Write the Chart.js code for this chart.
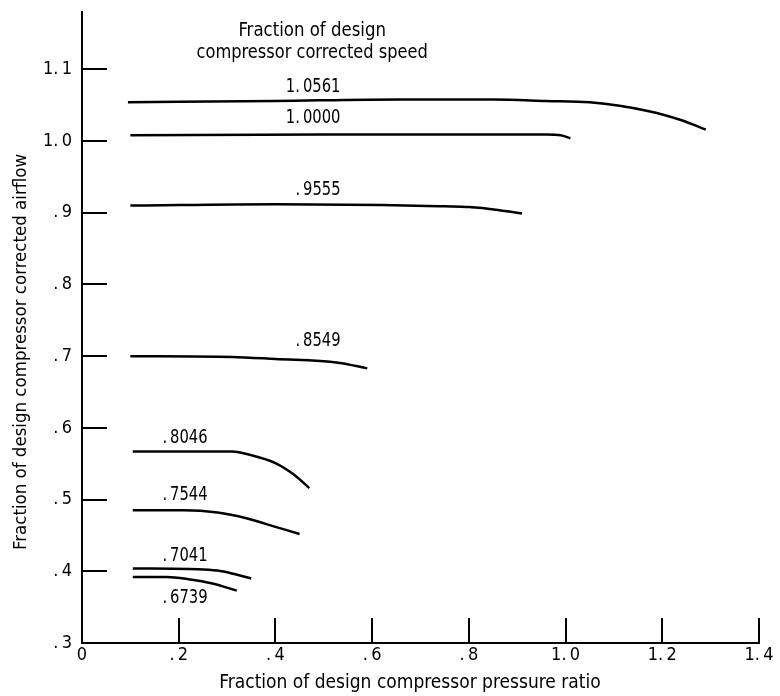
<!DOCTYPE html>
<html>
<head>
<meta charset="utf-8">
<script src="https://cdn.jsdelivr.net/npm/chart.js@4.4.0/dist/chart.umd.min.js"></script>
<style>
  body { margin: 0; background: #fff; }
  #wrap { width: 780px; height: 696px; }
</style>
</head>
<body>
<div id="wrap"><canvas id="map" width="780" height="696"></canvas></div>
<script>
// Fraction of design compressor corrected speed, one curve each
const speeds = ['1.\u20090561', '1.\u20090000', '.\u20099555', '.\u20098549', '.\u20098046', '.\u20097544', '.\u20097041', '.\u20096739'];

// pressure ratio (x) and corrected airflow (y)
const pr10561 = [0.095, 0.40, 0.66, 0.85, 0.96, 1.05, 1.17, 1.24, 1.29];
const wa10561 = [1.054, 1.056, 1.058, 1.058, 1.056, 1.054, 1.042, 1.029, 1.016];
const pr10000 = [0.10, 0.50, 0.96, 0.99, 1.01];
const wa10000 = [1.008, 1.009, 1.009, 1.008, 1.004];
const pr9555 = [0.10, 0.40, 0.62, 0.75, 0.80, 0.86, 0.91];
const wa9555 = [0.910, 0.912, 0.911, 0.909, 0.908, 0.904, 0.899];
const pr8549 = [0.10, 0.31, 0.40, 0.53, 0.59];
const wa8549 = [0.700, 0.699, 0.696, 0.691, 0.683];
const pr8046 = [0.105, 0.31, 0.35, 0.40, 0.44, 0.47];
const wa8046 = [0.567, 0.567, 0.562, 0.551, 0.534, 0.516];
const pr7544 = [0.105, 0.21, 0.28, 0.34, 0.40, 0.45];
const wa7544 = [0.485, 0.485, 0.482, 0.474, 0.462, 0.452];
const pr7041 = [0.105, 0.24, 0.28, 0.31, 0.35];
const wa7041 = [0.404, 0.403, 0.401, 0.397, 0.390];
const pr6739 = [0.105, 0.175, 0.22, 0.27, 0.32];
const wa6739 = [0.392, 0.392, 0.389, 0.383, 0.373];

// where each speed label sits, in axis units
const labelX = [0.478, 0.478, 0.488, 0.488, 0.213, 0.213, 0.213, 0.213];
const labelY = [1.075, 1.032, 0.932, 0.721, 0.586, 0.506, 0.421, 0.363];

const xTicks = [0, 0.2, 0.4, 0.6, 0.8, 1.0, 1.2, 1.4];
const xTickLabels = ['0', '.\u20092', '.\u20094', '.\u20096', '.\u20098', '1.\u20090', '1.\u20092', '1.\u20094'];
const yTicks = [0.3, 0.4, 0.5, 0.6, 0.7, 0.8, 0.9, 1.0, 1.1];
const yTickLabels = ['.\u20093', '.\u20094', '.\u20095', '.\u20096', '.\u20097', '.\u20098', '.\u20099', '1.\u20090', '1.\u20091'];

const legendTitle = ['Fraction of design', 'compressor corrected speed'];
const xTitle = 'Fraction of design compressor pressure ratio';
const yTitle = 'Fraction of design compressor corrected airflow';

const FONT = '"DejaVu Sans Condensed", "Liberation Sans Narrow", sans-serif';

function toPoints(xs, ys) {
  return xs.map((v, i) => ({ x: v, y: ys[i] }));
}

const curves = [
  toPoints(pr10561, wa10561),
  toPoints(pr10000, wa10000),
  toPoints(pr9555, wa9555),
  toPoints(pr8549, wa8549),
  toPoints(pr8046, wa8046),
  toPoints(pr7544, wa7544),
  toPoints(pr7041, wa7041),
  toPoints(pr6739, wa6739),
];

// draws text centred at (x, y), squeezed sideways by sx, optionally turned
function label(ctx, text, x, y, size, sx, angle) {
  ctx.save();
  ctx.translate(x, y);
  if (angle) ctx.rotate(angle);
  ctx.scale(sx, 1);
  ctx.font = size + 'px ' + FONT;
  ctx.fillText(text, 0, 0);
  ctx.restore();
}

// ticks point into the plot, plus the curve labels, the heading and axis titles
const annotate = {
  id: 'annotate',
  afterDatasetsDraw(chart) {
    const { ctx, chartArea, scales: { x, y } } = chart;
    ctx.save();
    ctx.strokeStyle = '#000';
    ctx.lineWidth = 2;
    ctx.beginPath();
    xTicks.forEach((v) => {
      if (v === 0) return;
      const px = Math.round(x.getPixelForValue(v));
      ctx.moveTo(px, chartArea.bottom);
      ctx.lineTo(px, chartArea.bottom - 25);
    });
    yTicks.forEach((v) => {
      if (v === 0.3) return;
      const py = Math.round(y.getPixelForValue(v));
      ctx.moveTo(chartArea.left, py);
      ctx.lineTo(chartArea.left + 25, py);
    });
    ctx.stroke();

    ctx.fillStyle = '#000';
    ctx.textAlign = 'center';
    ctx.textBaseline = 'middle';
    speeds.forEach((s, i) => {
      label(ctx, s, x.getPixelForValue(labelX[i]), y.getPixelForValue(labelY[i]), 20, 0.82);
    });
    label(ctx, legendTitle[0], x.getPixelForValue(0.476), y.getPixelForValue(1.154), 19, 0.97);
    label(ctx, legendTitle[1], x.getPixelForValue(0.476), y.getPixelForValue(1.123), 19, 0.95);

    label(ctx, xTitle, chartArea.left + 328, chartArea.bottom + 40, 19, 1);
    label(ctx, yTitle, chartArea.left - 61, chartArea.bottom - 291, 18.5, 1, -Math.PI / 2);
    ctx.restore();
  },
};

new Chart(document.getElementById('map'), {
  type: 'line',
  data: {
    datasets: curves.map((pts, i) => ({
      label: speeds[i],
      data: pts,
      borderColor: '#000',
      borderWidth: 2.5,
      pointRadius: 0,
      fill: false,
      cubicInterpolationMode: 'monotone',
    })),
  },
  options: {
    responsive: false,
    animation: false,
    layout: { padding: { top: 12, right: 21, left: 0, bottom: 0 } },
    plugins: {
      legend: { display: false },
      tooltip: { enabled: false },
    },
    scales: {
      x: {
        type: 'linear',
        min: 0,
        max: 1.4,
        afterBuildTicks: (scale) => { scale.ticks = xTicks.map((v) => ({ value: v })); },
        afterFit: (scale) => {
          scale.height = 53;
          scale.paddingLeft = 0;
          scale.paddingRight = 0;
        },
        grid: { display: false, drawTicks: false },
        border: { display: true, color: '#000', width: 2 },
        ticks: {
          color: '#000',
          padding: 2,
          maxRotation: 0,
          font: { family: FONT, size: 18 },
          callback: (v) => xTickLabels[xTicks.indexOf(v)],
        },
      },
      y: {
        type: 'linear',
        min: 0.3,
        max: 1.18,
        afterBuildTicks: (scale) => { scale.ticks = yTicks.map((v) => ({ value: v })); },
        afterFit: (scale) => {
          scale.width = 82;
          scale.paddingTop = 0;
          scale.paddingBottom = 0;
        },
        grid: { display: false, drawTicks: false },
        border: { display: true, color: '#000', width: 2 },
        ticks: {
          color: '#000',
          padding: 10,
          font: { family: FONT, size: 18 },
          callback: (v) => yTickLabels[yTicks.findIndex((t) => Math.abs(t - v) < 1e-9)],
        },
      },
    },
  },
  plugins: [annotate],
});
</script>
</body>
</html>
